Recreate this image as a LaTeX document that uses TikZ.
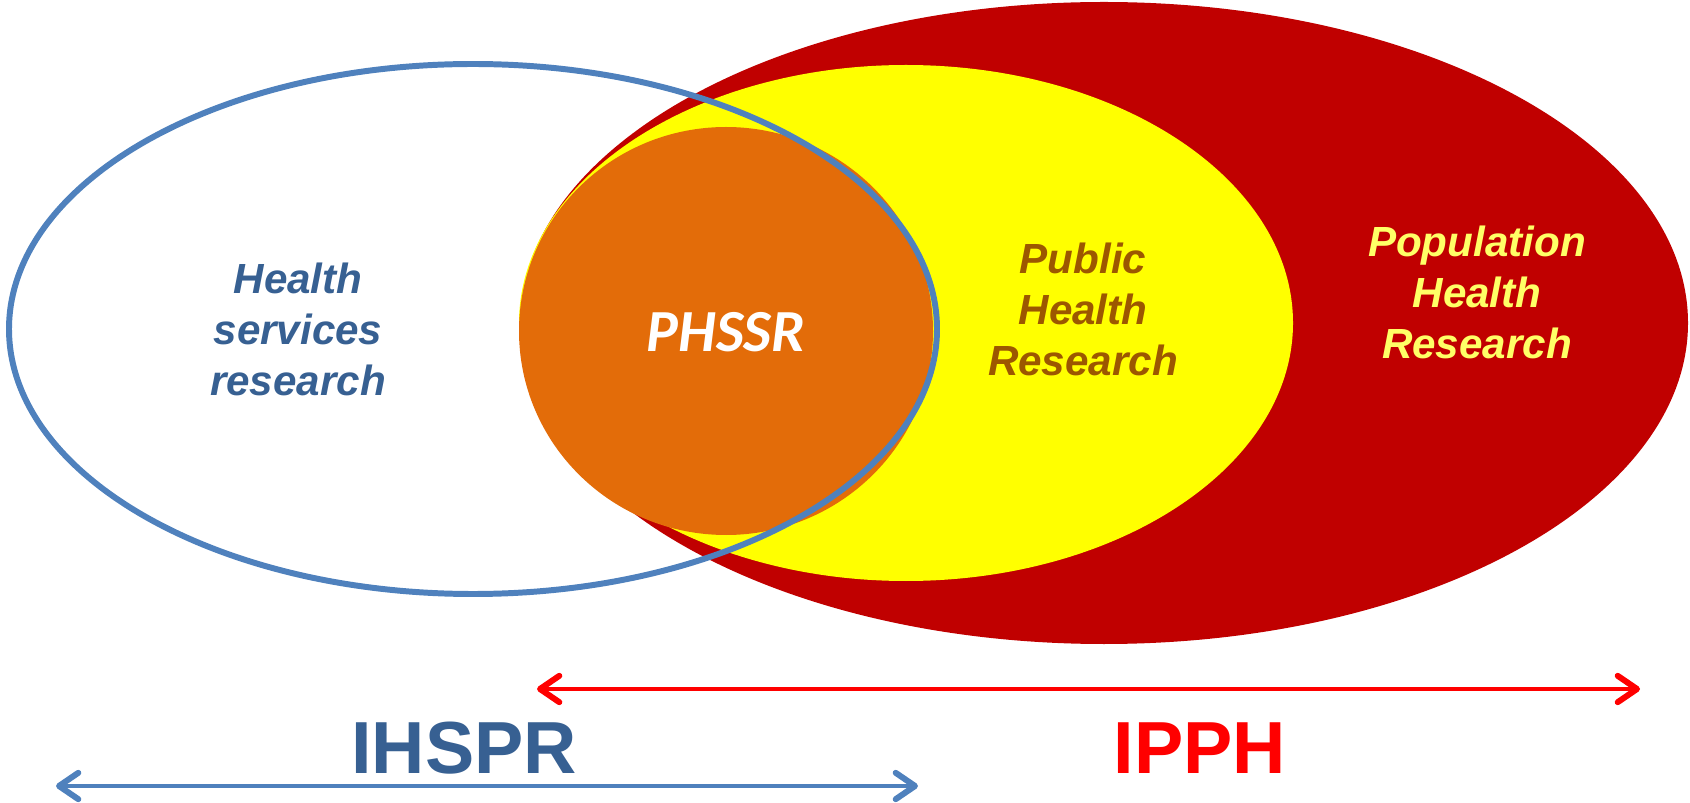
\documentclass[tikz,border=0pt]{standalone}
\usepackage{fontspec}
\setmainfont{Liberation Sans}
\newfontfamily\calfont{Carlito}
\usetikzlibrary{arrows.meta}
\definecolor{hsrblue}{HTML}{4F81BD}
\definecolor{hsrtext}{HTML}{376092}
\definecolor{pophred}{HTML}{C00000}
\definecolor{phyellow}{HTML}{FFFF00}
\definecolor{phssrorange}{HTML}{E36C09}
\definecolor{phtext}{HTML}{9C5700}
\definecolor{poptext}{HTML}{FFFF66}
\tikzset{
	fieldtext/.style={font=\fontsize{24}{29}\selectfont\bfseries\itshape, align=center, inner sep=0pt},
	insttext/.style={font=\fontsize{42}{48}\selectfont\bfseries, inner sep=0pt, anchor=base},
	barb/.tip={Straight Barb[length=11pt,width=15pt,line width=3.4pt,line cap=round,line join=round]},
	span/.style={line width=2.8pt, barb-barb}
}
\begin{document}
\begin{tikzpicture}[x=0.02cm,y=-0.02cm]
				\useasboundingbox (0,0) rectangle (1690,803);
				% nested fields
				\fill[pophred] (1104,323) ellipse [x radius=584, y radius=321];
				\fill[phyellow] (906,323) ellipse [x radius=387, y radius=258];
				\fill[phssrorange] (726,331) ellipse [x radius=207, y radius=204];
				\draw[hsrblue, line width=3.4pt] (473,329) ellipse [x radius=464, y radius=265];
				% labels
				\node[fieldtext, hsrtext] (hsr) at (298,329) {Health\\services\\research};
				\node[font=\calfont\fontsize{34}{40}\selectfont\bfseries\itshape, white, inner sep=0pt, anchor=base] (phssr) at (726,352) {PHSSR};
				\node[fieldtext, phtext] (phr) at (1083,309) {Public\\Health\\Research};
				\node[fieldtext, poptext] (pophr) at (1477,292) {Population\\Health\\Research};
				% institutes
				\node[insttext, hsrtext] (ihspr) at (464,773) {IHSPR};
				\node[insttext, red] (ipph) at (1200,773) {IPPH};
				\coordinate (ipph west) at (537,689);
				\coordinate (ipph east) at (1640,689);
				\coordinate (ihspr west) at (56,786);
				\coordinate (ihspr east) at (918,786);
				\draw[span, red] (ipph west) -- (ipph east);
				\draw[span, hsrblue] (ihspr west) -- (ihspr east);
\end{tikzpicture}
\end{document}
